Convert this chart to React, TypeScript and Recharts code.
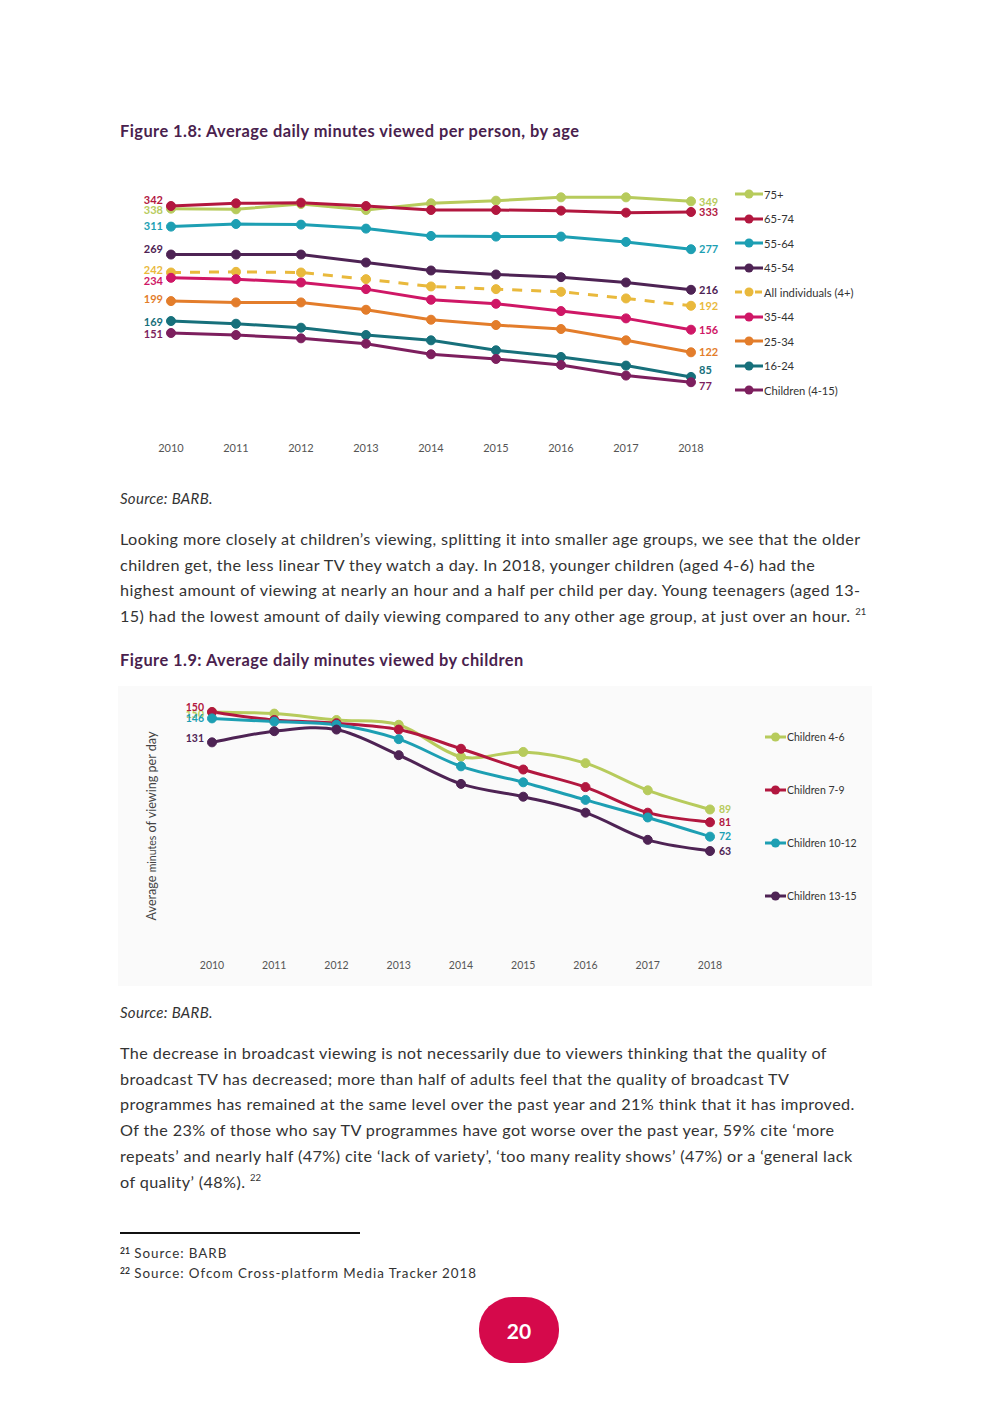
import React from "react";
import { LineChart, Line, XAxis, YAxis, Legend, LabelList } from "recharts";

// ---------- Figure 1.8 data ----------
const years = ["2010", "2011", "2012", "2013", "2014", "2015", "2016", "2017", "2018"];
const s75plus = [338, 337, 345, 336, 346, 350, 355, 355, 349];
const s65to74 = [342, 346, 347, 342, 336, 336, 335, 332, 333];
const s55to64 = [311, 315, 314, 308, 297, 296, 296, 288, 277];
const s45to54 = [269, 269, 269, 257, 245, 239, 235, 227, 216];
const sAll = [242, 243, 242, 232, 221, 217, 213, 203, 192];
const s35to44 = [234, 232, 227, 217, 201, 195, 184, 173, 156];
const s25to34 = [199, 197, 197, 186, 171, 163, 157, 140, 122];
const s16to24 = [169, 165, 159, 148, 140, 125, 115, 102, 85];
const sChildren = [151, 148, 143, 135, 119, 112, 103, 87, 77];

// ---------- Figure 1.9 data ----------
const kids4to6 = [150, 149, 145, 142, 122, 125, 118, 101, 89];
const kids7to9 = [150, 145, 143, 139, 127, 114, 103, 87, 81];
const kids10to12 = [146, 144, 142, 133, 116, 106, 95, 84, 72];
const kids13to15 = [131, 138, 139, 123, 105, 97, 87, 70, 63];

const FONT = "Lato, 'Open Sans', sans-serif";

const fig18Series = [
  { key: "a75", name: "75+", values: s75plus, color: "#b7cb5c", dash: undefined, dyFirst: 1, dyLast: 1 },
  { key: "a65", name: "65-74", values: s65to74, color: "#b2173f", dash: undefined, dyFirst: -6, dyLast: 0 },
  { key: "a55", name: "55-64", values: s55to64, color: "#1d9fb3", dash: undefined, dyFirst: 0, dyLast: 0 },
  { key: "a45", name: "45-54", values: s45to54, color: "#4e2354", dash: undefined, dyFirst: -5, dyLast: 0 },
  { key: "all", name: "All individuals (4+)", values: sAll, color: "#e9b93c", dash: "10 9", dyFirst: -2, dyLast: 0 },
  { key: "a35", name: "35-44", values: s35to44, color: "#cf1766", dash: undefined, dyFirst: 3, dyLast: 0 },
  { key: "a25", name: "25-34", values: s25to34, color: "#e37d2b", dash: undefined, dyFirst: -2, dyLast: 0 },
  { key: "a16", name: "16-24", values: s16to24, color: "#17707b", dash: undefined, dyFirst: 1, dyLast: -7 },
  { key: "ch", name: "Children (4-15)", values: sChildren, color: "#7d1f5e", dash: undefined, dyFirst: 1, dyLast: 4 },
];

const fig19Series = [
  { key: "k46", name: "Children 4-6", values: kids4to6, color: "#b7cb5c", dyFirst: 2, dyLast: 0 },
  { key: "k79", name: "Children 7-9", values: kids7to9, color: "#b2173f", dyFirst: -5, dyLast: 0 },
  { key: "k1012", name: "Children 10-12", values: kids10to12, color: "#1d9fb3", dyFirst: 0, dyLast: 0 },
  { key: "k1315", name: "Children 13-15", values: kids13to15, color: "#4e2354", dyFirst: -4, dyLast: 0 },
];

const fig18Data = years.map((y, i) => {
  const row: any = { year: y };
  fig18Series.forEach((s) => (row[s.key] = s.values[i]));
  return row;
});
const fig19Data = years.map((y, i) => {
  const row: any = { year: y };
  fig19Series.forEach((s) => (row[s.key] = s.values[i]));
  return row;
});

// smooth curve similar to spreadsheet "smoothed line"
const smoothCurve: any = (context: any) => {
  let pts: number[][] = [];
  return {
    areaStart() {},
    areaEnd() {},
    lineStart() {
      pts = [];
    },
    lineEnd() {
      const n = pts.length;
      if (!n) return;
      context.moveTo(pts[0][0], pts[0][1]);
      const t = 1 / 6;
      for (let i = 0; i < n - 1; i++) {
        const p0 = pts[Math.max(i - 1, 0)];
        const p1 = pts[i];
        const p2 = pts[i + 1];
        const p3 = pts[Math.min(i + 2, n - 1)];
        context.bezierCurveTo(
          p1[0] + (p2[0] - p0[0]) * t,
          p1[1] + (p2[1] - p0[1]) * t,
          p2[0] - (p3[0] - p1[0]) * t,
          p2[1] - (p3[1] - p1[1]) * t,
          p2[0],
          p2[1]
        );
      }
    },
    point(x: number, y: number) {
      pts.push([+x, +y]);
    },
  };
};

const endLabel = (color: string, dyFirst: number, dyLast: number, last: number, fs: number, offL: number, offR: number) =>
  (props: any) => {
    const { x, y, value, index } = props;
    if (index !== 0 && index !== last) return null;
    const first = index === 0;
    return (
      <text
        x={first ? x - offL : x + offR}
        y={y + (first ? dyFirst : dyLast)}
        dy="0.35em"
        textAnchor={first ? "end" : "start"}
        fill={color}
        fontSize={fs}
        fontWeight={700}
        fontFamily={FONT}
      >
        {value}
      </text>
    );
  };

const legendContent = (items: any[], gap: number, lineW: number, fs: number) => () => (
  <div style={{ fontFamily: FONT, fontSize: fs, color: "#333" }}>
    {items.map((s, i) => (
      <div key={s.key} style={{ position: "absolute", top: i * gap, left: 0, height: 14, display: "flex", alignItems: "center", whiteSpace: "nowrap" }}>
        <svg width={lineW} height={12} style={{ display: "block" }}>
          <line x1={0} y1={6} x2={lineW} y2={6} stroke={s.color} strokeWidth={3} strokeDasharray={s.dash ? "7 3" : undefined} />
          <circle cx={lineW / 2} cy={6} r={4.5} fill={s.color} />
        </svg>
        <span style={{ marginLeft: 1 }}>{s.name}</span>
      </div>
    ))}
  </div>
);

const YLabel = () => {
  const cx = 34;
  const cy = 140;
  return (
    <text x={cx} y={cy} dy="0.35em" transform={`rotate(-90 ${cx} ${cy})`} textAnchor="middle" fill="#444" fontFamily={FONT} fontSize={12.6}>
      Average <tspan fontSize={10.5}>minutes</tspan> of viewing per day
    </text>
  );
};

const textStyle: React.CSSProperties = {
  position: "absolute",
  left: 120,
  fontFamily: FONT,
  fontSize: 16.2,
  letterSpacing: 0.4,
  color: "#333",
  whiteSpace: "nowrap",
  lineHeight: "20px",
};

const titleStyle: React.CSSProperties = {
  ...textStyle,
  fontWeight: 700,
  color: "#4a1f4e",
  fontSize: 16.4,
  letterSpacing: 0.45,
};

const supStyle: React.CSSProperties = { fontSize: 9.5, position: "relative", top: -7, letterSpacing: 0 };

const para1 = [
  "Looking more closely at children’s viewing, splitting it into smaller age groups, we see that the older",
  "children get, the less linear TV they watch a day. In 2018, younger children (aged 4-6) had the",
  "highest amount of viewing at nearly an hour and a half per child per day. Young teenagers (aged 13-",
];
const para2 = [
  "The decrease in broadcast viewing is not necessarily due to viewers thinking that the quality of",
  "broadcast TV has decreased; more than half of adults feel that the quality of broadcast TV",
  "programmes has remained at the same level over the past year and 21% think that it has improved.",
  "Of the 23% of those who say TV programmes have got worse over the past year, 59% cite ‘more",
  "repeats’ and nearly half (47%) cite ‘lack of variety’, ‘too many reality shows’ (47%) or a ‘general lack",
];

export default function App() {
  return (
    <div style={{ position: "absolute", left: 0, top: 0, width: 992, height: 1403, background: "#fff", overflow: "hidden" }}>
      {/* Figure 1.8 */}
      <div style={{ ...titleStyle, top: 121 }}>Figure 1.8: Average daily minutes viewed per person, by age</div>
      <div style={{ position: "absolute", left: 120, top: 150 }}>
        <LineChart width={760} height={320} data={fig18Data} margin={{ top: 17.43, right: 189, bottom: 6.57, left: 51 }}>
          <XAxis dataKey="year" axisLine={false} tickLine={false} height={30} tick={{ fontSize: 11, fill: "#555", fontFamily: FONT, dy: 3 }} interval={0} />
          <YAxis hide domain={[0, 400]} />
          <Legend
            layout="vertical"
            align="center"
            verticalAlign="middle"
            content={legendContent(fig18Series, 24.5, 28, 11.2)}
            wrapperStyle={{ position: "absolute", left: 615, top: 37, width: 140, height: 220 }}
          />
          {fig18Series.map((s) => (
            <Line
              key={s.key}
              dataKey={s.key}
              name={s.name}
              type="linear"
              stroke={s.color}
              strokeWidth={3}
              strokeDasharray={s.dash}
              dot={{ r: 4.5, fill: s.color, stroke: s.color, strokeWidth: 1, strokeDasharray: "" }}
              isAnimationActive={false}
            >
              <LabelList dataKey={s.key} content={endLabel(s.color, s.dyFirst, s.dyLast, years.length - 1, 11, 8, 8)} />
            </Line>
          ))}
        </LineChart>
      </div>
      <div style={{ ...textStyle, top: 488, fontStyle: "italic", fontSize: 15, letterSpacing: 0.3 }}>Source: BARB.</div>

      {para1.map((l, i) => (
        <div key={i} style={{ ...textStyle, top: 529 + i * 25.7 }}>{l}</div>
      ))}
      <div style={{ ...textStyle, top: 529 + 3 * 25.7 }}>
        15) had the lowest amount of daily viewing compared to any other age group, at just over an hour.{" "}
        <span style={supStyle}>21</span>
      </div>

      {/* Figure 1.9 */}
      <div style={{ ...titleStyle, top: 650 }}>Figure 1.9: Average daily minutes viewed by children</div>
      <div style={{ position: "absolute", left: 118, top: 686, background: "#fafafa" }}>
        <LineChart width={754} height={300} data={fig19Data} margin={{ top: 10.02, right: 162, bottom: 4.3, left: 0 }}>
          <XAxis dataKey="year" axisLine={false} tickLine={false} height={30} tick={{ fontSize: 10.5, fill: "#555", fontFamily: FONT, dy: 2 }} interval={0} />
          <YAxis domain={[0, 160]} width={94} axisLine={false} tickLine={false} tick={false} label={<YLabel />} />
          <Legend
            layout="vertical"
            align="center"
            verticalAlign="middle"
            content={legendContent(fig19Series, 53, 21, 10.5)}
            wrapperStyle={{ position: "absolute", left: 647, top: 44, width: 110, height: 180 }}
          />
          {fig19Series.map((s) => (
            <Line
              key={s.key}
              dataKey={s.key}
              name={s.name}
              type={smoothCurve}
              stroke={s.color}
              strokeWidth={3}
              dot={{ r: 4.5, fill: s.color, stroke: s.color, strokeWidth: 1 }}
              isAnimationActive={false}
            >
              <LabelList dataKey={s.key} content={endLabel(s.color, s.dyFirst, s.dyLast, years.length - 1, 10.5, 8, 9)} />
            </Line>
          ))}
        </LineChart>
      </div>
      <div style={{ ...textStyle, top: 1002, fontStyle: "italic", fontSize: 15, letterSpacing: 0.3 }}>Source: BARB.</div>

      {para2.map((l, i) => (
        <div key={i} style={{ ...textStyle, top: 1043 + i * 25.7 }}>{l}</div>
      ))}
      <div style={{ ...textStyle, top: 1043 + 5 * 25.7 }}>
        of quality’ (48%). <span style={supStyle}>22</span>
      </div>

      {/* footnotes */}
      <div style={{ position: "absolute", left: 120, top: 1232, width: 240, height: 1.5, background: "#111" }} />
      <div style={{ ...textStyle, top: 1243, fontSize: 13.4, letterSpacing: 0.95 }}>
        <span style={{ ...supStyle, fontSize: 8.5, top: -4, fontWeight: 700 }}>21</span> Source: BARB
      </div>
      <div style={{ ...textStyle, top: 1263, fontSize: 13.4, letterSpacing: 0.95 }}>
        <span style={{ ...supStyle, fontSize: 8.5, top: -4, fontWeight: 700 }}>22</span> Source: Ofcom Cross-platform Media Tracker 2018
      </div>

      {/* page number */}
      <div
        style={{
          position: "absolute",
          left: 479,
          top: 1297,
          width: 80,
          height: 66,
          borderRadius: "34px / 32px",
          background: "#d5094b",
          color: "#fff",
          fontFamily: FONT,
          fontWeight: 700,
          fontSize: 21,
          display: "flex",
          alignItems: "center",
          justifyContent: "center",
        }}
      >
        20
      </div>
    </div>
  );
}
